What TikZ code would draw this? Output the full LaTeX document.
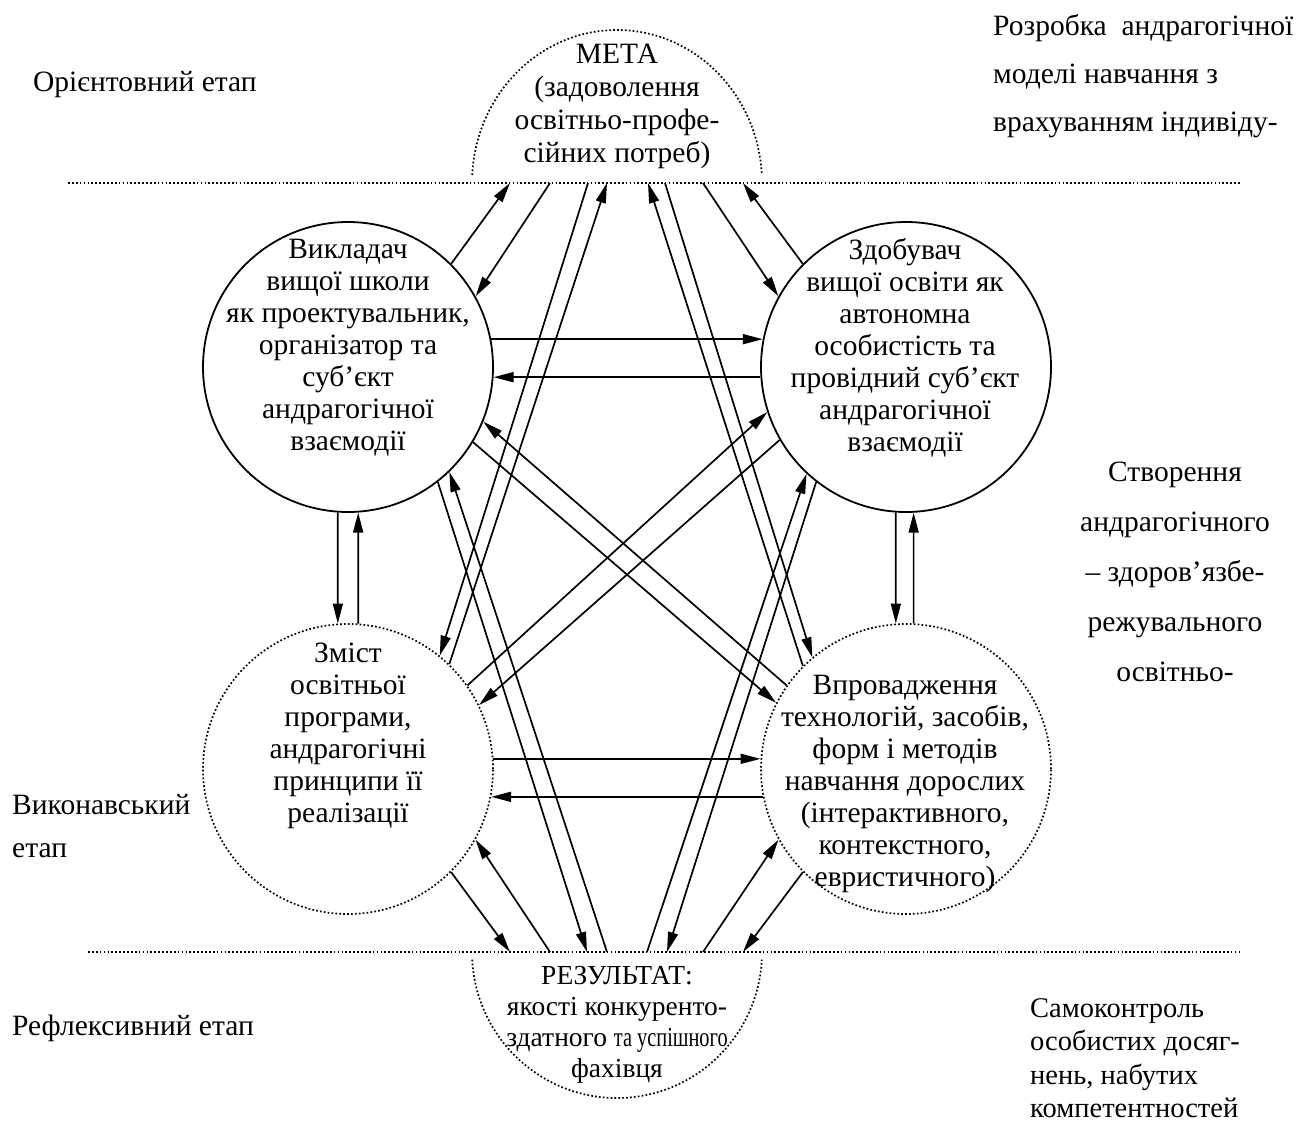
\documentclass[tikz,border=0pt]{standalone}
\usepackage{fontspec}
\setmainfont{Liberation Serif}
\usetikzlibrary{arrows.meta}
\begin{document}
\begin{tikzpicture}[x=1pt,y=-1pt,
  every node/.style={font=\fontsize{29.5}{32}\selectfont, inner sep=0pt},
  solidc/.style={circle, draw, line width=1.8pt, minimum size=290pt},
  dotc/.style={circle, draw, line width=1.7pt, dash pattern=on 1.7pt off 2.2pt, minimum size=290pt},
  conn/.style={line width=1.7pt, -{Triangle[length=20pt,width=10pt]}},
  dline/.style={line width=1.7pt, dash pattern=on 1.7pt off 2.2pt},
  ctext/.style={align=center}]
\useasboundingbox (0,0) rectangle (1311,1122);

% circles
\node[solidc] (c1) at (348,367) {};
\node[solidc] (c2) at (906,367) {};
\node[dotc] (c3) at (348,769) {};
\node[dotc] (c4) at (906,769) {};

% dotted separators and half circles
\coordinate (tl) at (68,183); \coordinate (tr) at (1240,183);
\coordinate (bl) at (88,952); \coordinate (br) at (1240,952);
\draw[dline] (tl) -- (tr);
\draw[dline] (bl) -- (br);
\coordinate (mc) at (617,183);
\coordinate (rc) at (617,952);
\draw[dline] (mc) ++(177:145pt and 153pt) arc[start angle=177, end angle=3, x radius=145pt, y radius=153pt];
\draw[dline] (rc) ++(183:145pt and 146pt) arc[start angle=183, end angle=357, x radius=145pt, y radius=146pt];

% texts in shapes
\node[ctext, font=\fontsize{29.5}{33}\selectfont] (mt) at (617,106) {МЕТА\\(задоволення\\освітньо-профе-\\сійних потреб)};
\node[ctext, font=\fontsize{27.5}{31}\selectfont] (rt) at (617,1025) {РЕЗУЛЬТАТ:\\якості конкуренто-\\здатного \scalebox{0.74}[1]{та успішного}\\фахівця};
\node[ctext] (t1) at (348,348) {Викладач\\вищої школи\\як проектувальник,\\організатор та\\суб’єкт\\андрагогічної\\взаємодії};
\node[ctext] (t2) at (905,348) {Здобувач\\вищої освіти як\\автономна\\особистість та\\провідний суб’єкт\\андрагогічної\\взаємодії};
\node[ctext] (t3) at (348,736) {Зміст\\освітньої\\програми,\\андрагогічні\\принципи її\\реалізації};
\node[ctext] (t4) at (905,784) {Впровадження\\технологій, засобів,\\форм і методів\\навчання дорослих\\(інтерактивного,\\контекстного,\\евристичного)};

% side texts
\node[anchor=west] (s1) at (33,85) {Орієнтовний етап};
\node[anchor=west, align=left, font=\fontsize{29.5}{48}\selectfont] (s2) at (993,76) {Розробка\ \ андрагогічної\\моделі навчання з\\врахуванням індивіду-};
\node[align=center, font=\fontsize{29.5}{50}\selectfont] (s3) at (1175,572) {Створення\\андрагогічного\\– здоров’язбе-\\режувального\\освітньо-};
\node[anchor=west, align=left, font=\fontsize{29.5}{43}\selectfont] (s4) at (12,826) {Виконавський\\етап};
\node[anchor=west] (s5) at (12,1028) {Рефлексивний етап};
\node[anchor=west, align=left, font=\fontsize{28.5}{33.5}\selectfont] (s6) at (1030,1058) {Самоконтроль\\особистих досяг-\\нень, набутих\\компетентностей};

% end points on the separators
\coordinate (m1) at (510,183); \coordinate (m2) at (550,183);
\coordinate (m3) at (588,183); \coordinate (m4) at (607,183);
\coordinate (m5) at (648,183); \coordinate (m6) at (665,183);
\coordinate (m7) at (703,183); \coordinate (m8) at (743,183);
\coordinate (r1) at (510,952); \coordinate (r2) at (550,952);
\coordinate (r3) at (587,952); \coordinate (r4) at (607,952);
\coordinate (r5) at (647,952); \coordinate (r6) at (667,952);
\coordinate (r7) at (703,952); \coordinate (r8) at (743,952);

% connectors with goal
\draw[conn] (c1.45) -- (m1);
\draw[conn] (m2) -- (c1.29);
\draw[conn] (m3) -- (c3.51);
\draw[conn] (c3.46) -- (m4);
\draw[conn] (c4.135) -- (m5);
\draw[conn] (m6) -- (c4.130);
\draw[conn] (m7) -- (c2.151);
\draw[conn] (c2.135) -- (m8);
% horizontals
\draw[conn] (c1.11) -- (c2.169);
\draw[conn] (c2.184) -- (c1.-4);
\draw[conn] (c3.4) -- (c4.176);
\draw[conn] (c4.191) -- (c3.-11);
% diagonals
\draw[conn] (c1.-31) -- (c4.153);
\draw[conn] (c4.145) -- (c1.-22);
\draw[conn] (c3.35) -- (c2.198);
\draw[conn] (c2.210) -- (c3.26);
% with result
\draw[conn] (c1.-52) -- (r3);
\draw[conn] (r4) -- (c1.-46);
\draw[conn] (r5) -- (c2.227);
\draw[conn] (c2.232) -- (r6);
\draw[conn] (c3.-45) -- (r1);
\draw[conn] (r2) -- (c3.-29);
\draw[conn] (r7) -- (c4.209);
\draw[conn] (c4.225) -- (r8);
% verticals
\draw[conn] (c1.-94) -- (c3.94);
\draw[conn] (c3.86) -- (c1.-86);
\draw[conn] (c2.-94) -- (c4.94);
\draw[conn] (c4.87) -- (c2.-87);
\end{tikzpicture}
\end{document}
